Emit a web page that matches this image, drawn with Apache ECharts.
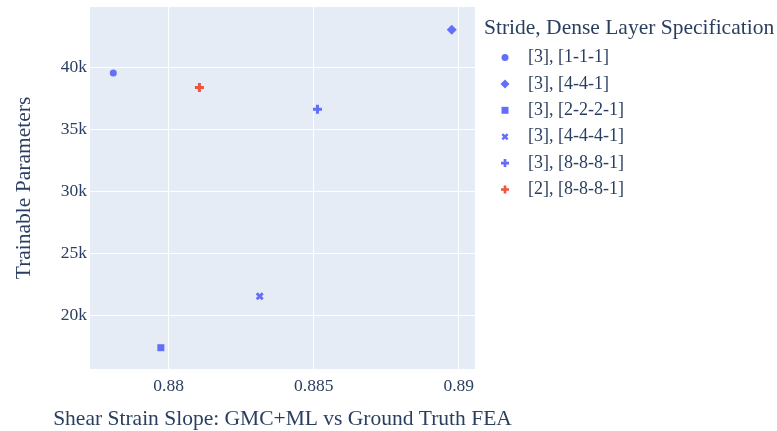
<!DOCTYPE html>
<html>
<head>
<meta charset="utf-8">
<script src="https://cdn.jsdelivr.net/npm/echarts@6/dist/echarts.min.js"></script>
<style>
  html, body { margin: 0; padding: 0; background: #ffffff; }
  #chart { width: 777px; height: 431px; }
</style>
</head>
<body>
<div id="chart"></div>
<script>
// Model configurations: stride + dense layer spec
const seriesNames = ['[3], [1-1-1]', '[3], [4-4-1]', '[3], [2-2-2-1]', '[3], [4-4-4-1]', '[3], [8-8-8-1]', '[2], [8-8-8-1]'];
// Shear strain slope of GMC+ML against ground-truth FEA
const slopeValues = [0.87809, 0.88976, 0.87973, 0.88314, 0.88513, 0.88106];
// Trainable parameter counts
const paramValues = [39573, 43065, 17387, 21532, 36645, 38387];
const seriesColors = ['#636efa', '#636efa', '#636efa', '#636efa', '#636efa', '#EF553B'];

const xTicks = [0.88, 0.885, 0.89];
const xTickLabels = ['0.88', '0.885', '0.89'];
const yTicks = [20000, 25000, 30000, 35000, 40000];
const yTickLabels = ['20k', '25k', '30k', '35k', '40k'];

const xRange = [0.877287, 0.890562];
const yRange = [15669, 44893];

// marker shapes
const plusPath = 'path://M-1,-3h2v2h2v2h-2v2h-2v-2h-2v-2h2z';
const crossPath = 'path://M-3,-1.5L-1.5,-3L0,-1.5L1.5,-3L3,-1.5L1.5,0L3,1.5L1.5,3L0,1.5L-1.5,3L-3,1.5L-1.5,0Z';
const symbols = ['circle', 'diamond', 'rect', crossPath, plusPath, plusPath];
const symbolSizes = [7, 10, 7, 8, 9, 9];
const legendSizes = [7, 9, 7, 7, 8, 8];

const FONT = "'Liberation Serif', 'Times New Roman', serif";
const TEXT = '#2a3f5f';

const chart = echarts.init(document.getElementById('chart'), null, { renderer: 'canvas' });

const series = seriesNames.map((name, i) => ({
  name: name,
  type: 'scatter',
  data: [[slopeValues[i], paramValues[i]]],
  symbol: symbols[i],
  symbolSize: symbolSizes[i],
  itemStyle: { color: seriesColors[i], opacity: 1 },
  emphasis: { disabled: true }
}));

// one legend per entry so each icon keeps its own square size
const legends = seriesNames.map((name, i) => ({
  orient: 'vertical',
  left: 505 - legendSizes[i] / 2,
  top: 48.5 + i * 26.4,
  padding: 0,
  itemWidth: legendSizes[i],
  itemHeight: legendSizes[i],
  selectedMode: false,
  textStyle: {
    fontFamily: FONT, color: TEXT, fontSize: 18, lineHeight: 17,
    padding: [0, 0, 0, 528 - (505 + legendSizes[i] / 2) - 5]
  },
  data: [{ name: name, icon: symbols[i] }]
}));

chart.setOption({
  animation: false,
  backgroundColor: '#ffffff',
  textStyle: { fontFamily: FONT, color: TEXT },
  title: {
    text: 'Stride, Dense Layer Specification',
    left: 484,
    top: 17,
    padding: 0,
    textStyle: { fontFamily: FONT, color: TEXT, fontSize: 21.5, fontWeight: 'normal' }
  },
  legend: legends,
  grid: {
    left: 90,
    right: 302,
    top: 7,
    bottom: 62,
    containLabel: false,
    outerBoundsMode: 'none',
    show: true,
    backgroundColor: '#E5ECF6',
    borderWidth: 0
  },
  xAxis: {
    type: 'value',
    min: xRange[0],
    max: xRange[1],
    name: 'Shear Strain Slope: GMC+ML vs Ground Truth FEA',
    nameLocation: 'middle',
    nameGap: 39,
    nameTextStyle: { fontFamily: FONT, color: TEXT, fontSize: 21.5 },
    axisLine: { show: false },
    axisTick: { show: false, customValues: xTicks },
    axisLabel: {
      customValues: xTicks,
      fontFamily: FONT, color: TEXT, fontSize: 17.5, margin: 8,
      formatter: (v) => xTickLabels[xTicks.findIndex(t => Math.abs(t - v) < 1e-9)] ?? ''
    },
    splitLine: { show: true, lineStyle: { color: '#ffffff', width: 1 } }
  },
  yAxis: {
    type: 'value',
    min: yRange[0],
    max: yRange[1],
    name: 'Trainable Parameters',
    nameLocation: 'middle',
    nameGap: 55,
    nameTextStyle: { fontFamily: FONT, color: TEXT, fontSize: 21.5 },
    axisLine: { show: false },
    axisTick: { show: false, customValues: yTicks },
    axisLabel: {
      customValues: yTicks,
      fontFamily: FONT, color: TEXT, fontSize: 17.5, margin: 3,
      formatter: (v) => yTickLabels[yTicks.indexOf(v)] ?? ''
    },
    splitLine: { show: true, lineStyle: { color: '#ffffff', width: 1 } }
  },
  series: series
});
</script>
</body>
</html>
